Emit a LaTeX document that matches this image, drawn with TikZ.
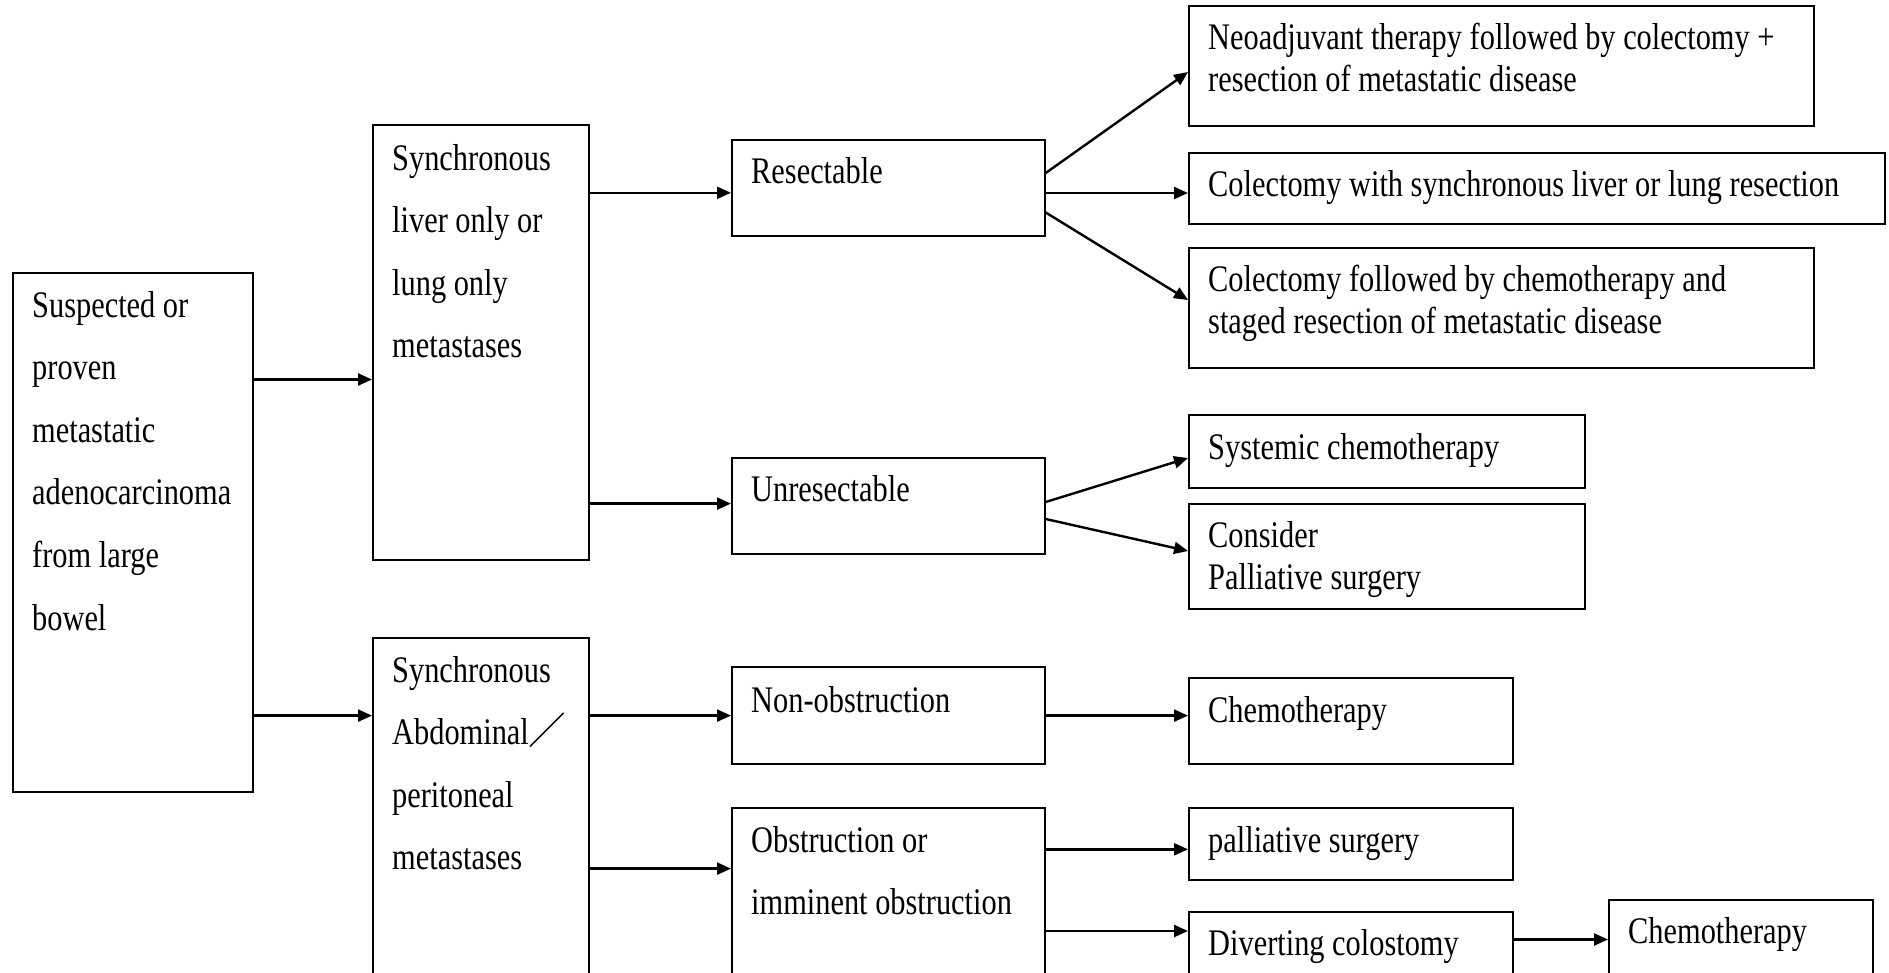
\documentclass[tikz,border=0pt]{standalone}
\usepackage{fontspec}
\setmainfont[FakeStretch=0.81]{Liberation Serif}
\newfontfamily\cjkfont{Noto Sans CJK TC}
\usetikzlibrary{arrows.meta,calc}
\tikzset{
  box/.style={draw=black, line width=1.7pt, inner sep=0pt, anchor=north west},
  txtwide/.style={anchor=base west, inner sep=0pt, align=left, font=\fontsize{37.5}{62.6}\selectfont},
  txtnarrow/.style={anchor=base west, inner sep=0pt, align=left, font=\fontsize{37.5}{42}\selectfont},
  arr/.style={line width=2.4pt, -{Triangle[length=14pt,width=12pt]}},
}
\begin{document}
\begin{tikzpicture}[x=1pt,y=-1pt]
\clip (0,0) rectangle (1889,972);
\fill[white] (0,0) rectangle (1889,972);
% boxes
\node[box, minimum width=240pt, minimum height=519pt] (A) at (12,272) {};
\node[box, minimum width=216pt, minimum height=435pt] (B1) at (372,124) {};
\node[box, minimum width=216pt, minimum height=420pt] (B2) at (372,637) {};
\node[box, minimum width=313pt, minimum height=96pt] (C1) at (731,139) {};
\node[box, minimum width=313pt, minimum height=96pt] (C2) at (731,457) {};
\node[box, minimum width=313pt, minimum height=97pt] (C3) at (731,666) {};
\node[box, minimum width=313pt, minimum height=220pt] (C4) at (731,807) {};
\node[box, minimum width=625pt, minimum height=120pt] (D1) at (1188,5) {};
\node[box, minimum width=696pt, minimum height=71pt] (D2) at (1188,152) {};
\node[box, minimum width=625pt, minimum height=120pt] (D3) at (1188,247) {};
\node[box, minimum width=396pt, minimum height=73pt] (D4) at (1188,414) {};
\node[box, minimum width=396pt, minimum height=105pt] (D5) at (1188,503) {};
\node[box, minimum width=324pt, minimum height=86pt] (D6) at (1188,677) {};
\node[box, minimum width=324pt, minimum height=72pt] (D7) at (1188,807) {};
\node[box, minimum width=324pt, minimum height=120pt] (D8) at (1188,911) {};
\node[box, minimum width=264pt, minimum height=120pt] (D9) at (1608,899) {};
% texts (anchor is the baseline of the last line)
\node[txtwide] (tA) at ($(A.north west)+(20,358)$) {Suspected or\\proven\\metastatic\\adenocarcinoma\\from large\\bowel};
\node[txtwide] (tB1) at ($(B1.north west)+(20,233.8)$) {Synchronous\\liver only or\\lung only\\metastases};
\node[txtwide] (tB2) at ($(B2.north west)+(20,232.8)$) {Synchronous\\Abdominal{\cjkfont ／}\\peritoneal\\metastases};
\node[txtwide] (tC1) at ($(C1.north west)+(20,44)$) {Resectable};
\node[txtwide] (tC2) at ($(C2.north west)+(20,44)$) {Unresectable};
\node[txtwide] (tC3) at ($(C3.north west)+(20,46)$) {Non-obstruction};
\node[txtwide] (tC4) at ($(C4.north west)+(20,107.6)$) {Obstruction or\\imminent obstruction};
\node[txtnarrow] (tD1) at ($(D1.north west)+(20,86)$) {Neoadjuvant therapy followed by colectomy +\\resection of metastatic disease};
\node[txtnarrow] (tD2) at ($(D2.north west)+(20,44)$) {Colectomy with synchronous liver or lung resection};
\node[txtnarrow] (tD3) at ($(D3.north west)+(20,86.5)$) {Colectomy followed by chemotherapy and\\staged resection of metastatic disease};
\node[txtnarrow] (tD4) at ($(D4.north west)+(20,45)$) {Systemic chemotherapy};
\node[txtnarrow] (tD5) at ($(D5.north west)+(20,86)$) {Consider\\Palliative surgery};
\node[txtnarrow] (tD6) at ($(D6.north west)+(20,45)$) {Chemotherapy};
\node[txtnarrow] (tD7) at ($(D7.north west)+(20,45)$) {palliative surgery};
\node[txtnarrow] (tD8) at ($(D8.north west)+(20,44)$) {Diverting colostomy};
\node[txtnarrow] (tD9) at ($(D9.north west)+(20,44)$) {Chemotherapy};
% connectors
\draw[arr] ($(A.north east)+(0,107.5)$) -- ($(B1.north west)+(0,255.5)$);
\draw[arr] ($(A.north east)+(0,443.6)$) -- ($(B2.north west)+(0,78.6)$);
\draw[arr] ($(B1.north east)+(0,68.8)$) -- ($(C1.north west)+(0,53.8)$);
\draw[arr] ($(B1.north east)+(0,379.6)$) -- ($(C2.north west)+(0,46.6)$);
\draw[arr] ($(B2.north east)+(0,78.6)$) -- ($(C3.north west)+(0,49.6)$);
\draw[arr] ($(B2.north east)+(0,231.6)$) -- ($(C4.north west)+(0,61.6)$);
\draw[arr] ($(C1.north east)+(0,34)$) -- ($(D1.north west)+(0,67)$);
\draw[arr] ($(C1.north east)+(0,54)$) -- ($(D2.north west)+(0,41)$);
\draw[arr] ($(C1.north east)+(0,73.5)$) -- ($(D3.north west)+(0,53)$);
\draw[arr] ($(C2.north east)+(0,45)$) -- ($(D4.north west)+(0,44)$);
\draw[arr] ($(C2.north east)+(0,62)$) -- ($(D5.north west)+(0,48)$);
\draw[arr] ($(C3.north east)+(0,49.6)$) -- ($(D6.north west)+(0,38.6)$);
\draw[arr] ($(C4.north east)+(0,42.3)$) -- ($(D7.north west)+(0,42.3)$);
\draw[arr] ($(C4.north east)+(0,124)$) -- ($(D8.north west)+(0,20)$);
\draw[arr] ($(D8.north east)+(0,28.5)$) -- ($(D9.north west)+(0,40.5)$);
\end{tikzpicture}
\end{document}
